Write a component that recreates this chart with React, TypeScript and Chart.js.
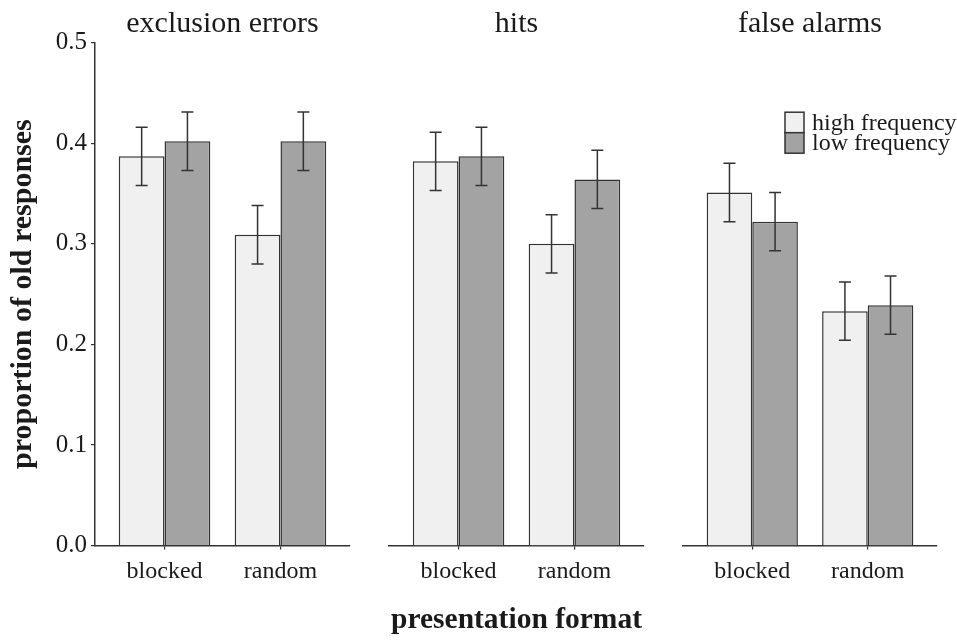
import React, { useEffect, useRef } from 'react';
import { Chart, registerables } from 'chart.js';

Chart.register(...registerables);

// ---- data ----
const panelTitles = ['exclusion errors', 'hits', 'false alarms'];
const formats = ['blocked', 'random'];
const seriesLabels = ['high frequency', 'low frequency'];

const exclusionHigh = [0.387, 0.309];
const exclusionLow = [0.402, 0.402];
const hitsHigh = [0.382, 0.300];
const hitsLow = [0.387, 0.364];
const falseAlarmsHigh = [0.351, 0.233];
const falseAlarmsLow = [0.322, 0.239];

const exclusionHighErr = [0.029, 0.029];
const exclusionLowErr = [0.029, 0.029];
const hitsHighErr = [0.029, 0.029];
const hitsLowErr = [0.029, 0.029];
const falseAlarmsHighErr = [0.029, 0.029];
const falseAlarmsLowErr = [0.029, 0.029];

const yMin = 0;
const yMax = 0.5;
const yStep = 0.1;

const yTitle = 'proportion of old responses';
const xTitle = 'presentation format';

// ---- styles / layout ----
const W = 957;
const H = 640;
const FONT = "'Liberation Serif', 'Times New Roman', serif";
const INK = '#1a1a1a';
const LINE = '#333333';
const FILLS = ['#f0f0f0', '#a3a3a3'];

const panels = [
  { title: panelTitles[0], high: exclusionHigh, low: exclusionLow, highErr: exclusionHighErr, lowErr: exclusionLowErr, left: 0, right: W - 350, showY: true, showXTitle: false, legend: false },
  { title: panelTitles[1], high: hitsHigh, low: hitsLow, highErr: hitsHighErr, lowErr: hitsLowErr, left: 389, right: W - 644, showY: false, showXTitle: true, legend: false },
  { title: panelTitles[2], high: falseAlarmsHigh, low: falseAlarmsLow, highErr: falseAlarmsHighErr, lowErr: falseAlarmsLowErr, left: 683, right: W - 937, showY: false, showXTitle: false, legend: true },
];

const errorBarPlugin = {
  id: 'errorBars',
  afterDatasetsDraw(chart: any) {
    const { ctx } = chart;
    const ys = chart.scales.y;
    chart.data.datasets.forEach((ds: any, di: number) => {
      const meta = chart.getDatasetMeta(di);
      meta.data.forEach((bar: any, i: number) => {
        const v = ds.data[i].y;
        const e = ds.errors[i];
        const top = ys.getPixelForValue(v + e);
        const bot = ys.getPixelForValue(v - e);
        const x = bar.x;
        ctx.save();
        ctx.strokeStyle = LINE;
        ctx.lineWidth = 1.5;
        ctx.beginPath();
        ctx.moveTo(x, top);
        ctx.lineTo(x, bot);
        ctx.moveTo(x - 6, top);
        ctx.lineTo(x + 6, top);
        ctx.moveTo(x - 6, bot);
        ctx.lineTo(x + 6, bot);
        ctx.stroke();
        ctx.restore();
      });
    });
  },
};

const boxLegendPlugin = {
  id: 'boxLegend',
  afterDraw(chart: any, _args: any, opts: any) {
    if (!opts || !opts.display) return;
    const { ctx, chartArea } = chart;
    const x0 = chartArea.right - 152;
    let y0 = chartArea.top + 69.5;
    const bw = 19;
    const bh = 20.5;
    ctx.save();
    ctx.font = `24px ${FONT}`;
    ctx.textBaseline = 'alphabetic';
    ctx.textAlign = 'left';
    chart.data.datasets.forEach((ds: any) => {
      ctx.fillStyle = ds.backgroundColor;
      ctx.fillRect(x0, y0, bw, bh);
      ctx.strokeStyle = LINE;
      ctx.lineWidth = 1.5;
      ctx.strokeRect(x0, y0, bw, bh);
      ctx.fillStyle = INK;
      ctx.fillText(ds.label, x0 + 27, y0 + 17.5);
      y0 += bh;
    });
    ctx.restore();
  },
};

function Panel({ cfg }: { cfg: any }) {
  const ref = useRef<HTMLCanvasElement | null>(null);
  useEffect(() => {
    if (!ref.current) return;
    const series = [cfg.high, cfg.low];
    const errs = [cfg.highErr, cfg.lowErr];
    const chart = new Chart(ref.current, {
      type: 'bar',
      data: {
        datasets: series.map((vals: number[], s: number) => ({
          label: seriesLabels[s],
          data: vals.map((v, i) => ({ x: i, y: v })),
          errors: errs[s],
          backgroundColor: FILLS[s],
          borderColor: LINE,
          borderWidth: 1.5,
          categoryPercentage: 0.79,
          barPercentage: 1,
        })) as any,
      },
      options: {
        responsive: false,
        animation: false,
        events: [],
        layout: { padding: { left: cfg.left, right: cfg.right, top: 0, bottom: 0 } },
        plugins: {
          legend: { display: false },
          tooltip: { enabled: false },
          title: {
            display: true,
            text: cfg.title,
            fullSize: false,
            color: INK,
            font: { family: FONT, size: 30, weight: 'normal' },
            padding: { top: 6, bottom: 0.7 },
          },
          boxLegend: { display: cfg.legend },
        } as any,
        scales: {
          x: {
            type: 'linear',
            min: -0.6,
            max: 1.6,
            offset: false,
            afterBuildTicks: (scale: any) => {
              scale.ticks = formats.map((_, i) => ({ value: i }));
            },
            afterFit: (scale: any) => {
              scale.height = 94.5;
            },
            ticks: {
              autoSkip: false,
              maxRotation: 0,
              padding: 8,
              color: INK,
              font: { family: FONT, size: 24 },
              callback: (v: any) => formats[v] ?? '',
            },
            grid: { offset: false, drawOnChartArea: false, drawTicks: true, tickLength: 4, color: LINE, lineWidth: 1.2 },
            border: { display: true, color: LINE, width: 1.5 },
            title: {
              display: cfg.showXTitle,
              text: xTitle,
              color: INK,
              font: { family: FONT, size: 29.5, weight: 'bold' },
              padding: { top: 0, bottom: 2 },
            },
          } as any,
          y: {
            display: cfg.showY,
            min: yMin,
            max: yMax,
            afterFit: (scale: any) => {
              if (cfg.showY) scale.width = 95;
            },
            ticks: {
              stepSize: yStep,
              padding: 4,
              color: INK,
              font: { family: FONT, size: 25 },
              callback: (v: any) => Number(v).toFixed(1),
            },
            grid: { drawOnChartArea: false, drawTicks: true, tickLength: 4, color: LINE, lineWidth: 1.2 },
            border: { display: true, color: LINE, width: 1.5 },
            title: {
              display: true,
              text: yTitle,
              color: INK,
              font: { family: FONT, size: 30, weight: 'bold' },
              padding: { top: 5, bottom: 0 },
            },
          } as any,
        },
      },
      plugins: [errorBarPlugin, boxLegendPlugin],
    });
    return () => chart.destroy();
  }, [cfg]);
  return (
    <canvas
      ref={ref}
      width={W}
      height={H}
      style={{ position: 'absolute', left: 0, top: 0, width: W, height: H }}
    />
  );
}

export default function App() {
  return (
    <div style={{ position: 'absolute', left: 0, top: 0, width: W, height: H, background: '#ffffff' }}>
      {panels.map((p, i) => (
        <Panel key={i} cfg={p} />
      ))}
    </div>
  );
}
